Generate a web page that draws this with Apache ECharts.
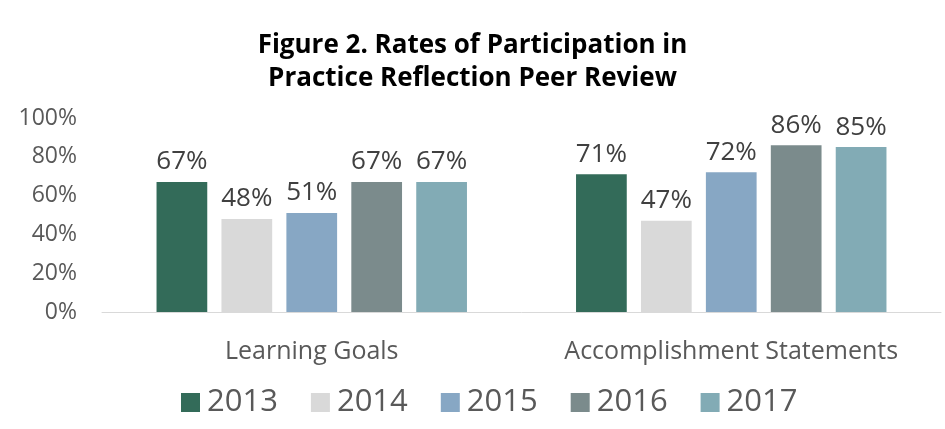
<!DOCTYPE html>
<html>
<head>
<meta charset="utf-8">
<script src="https://cdn.jsdelivr.net/npm/echarts@6/dist/echarts.min.js"></script>
<style>
  html, body { margin: 0; padding: 0; background: #fff; }
  #chart { width: 945px; height: 429px; }
</style>
</head>
<body>
<div id="chart"></div>
<script>
const categories = ['Learning Goals', 'Accomplishment Statements'];
const years = ['2013', '2014', '2015', '2016', '2017'];
const values2013 = [67, 71];
const values2014 = [48, 47];
const values2015 = [51, 72];
const values2016 = [67, 86];
const values2017 = [67, 85];
const colors = ['#336b59', '#d9d9d9', '#87a7c4', '#7b8b8c', '#82abb5'];

const seriesValues = [values2013, values2014, values2015, values2016, values2017];
const font = '"Open Sans", Lato, sans-serif';

const chart = echarts.init(document.getElementById('chart'));

const option = {
  animation: false,
  textStyle: { fontFamily: font },
  title: {
    text: 'Figure 2. Rates of Participation in\nPractice Reflection Peer Review',
    left: 'center',
    top: 24,
    textStyle: { fontSize: 26, fontWeight: 'bold', color: '#000', lineHeight: 33, fontFamily: font }
  },
  legend: {
    data: years,
    bottom: 6,
    left: 176,
    itemWidth: 19,
    itemHeight: 19,
    itemGap: 33,
    icon: 'rect',
    textStyle: { fontSize: 31, color: '#595959', fontFamily: font, padding: [0, 0, 0, 2] }
  },
  grid: { left: 102, right: 4, top: 118, bottom: 117 },
  xAxis: {
    type: 'category',
    data: categories,
    axisTick: { show: false },
    axisLine: { lineStyle: { color: '#d9d9d9' } },
    axisLabel: { interval: 0, fontSize: 25, color: '#595959', margin: 27, fontFamily: font }
  },
  yAxis: {
    type: 'value',
    min: 0,
    max: 100,
    interval: 20,
    splitLine: { show: false },
    axisLine: { show: false },
    axisTick: { show: false },
    axisLabel: { formatter: '{value}%', fontSize: 23, color: '#595959', margin: 25, fontFamily: font }
  },
  series: years.map((y, i) => ({
    name: y,
    type: 'bar',
    data: seriesValues[i],
    barGap: '28%',
    barCategoryGap: '26%',
    itemStyle: { color: colors[i] },
    label: {
      show: true,
      position: 'top',
      distance: 7,
      formatter: '{c}%',
      fontSize: 26,
      color: '#404040',
      fontFamily: font
    }
  }))
};

chart.setOption(option);
</script>
</body>
</html>
